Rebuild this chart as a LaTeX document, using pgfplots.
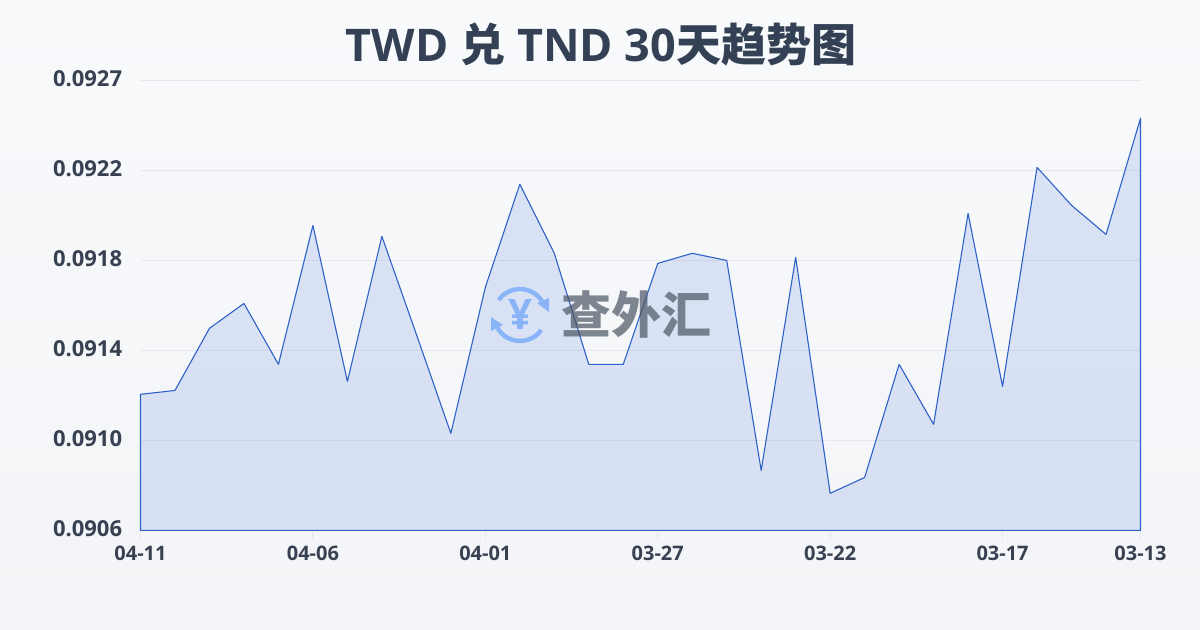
\documentclass[border=0pt]{standalone}
\usepackage{fontspec}
\usepackage{pgfplots}
\pgfplotsset{compat=1.18}
\setmainfont{Open Sans}
\newfontfamily\cjk{Noto Sans CJK SC}

\definecolor{bgtop}{HTML}{F8FAFC}
\definecolor{bgbot}{HTML}{F2F4F7}
\definecolor{titlec}{HTML}{344054}
\definecolor{tickc}{HTML}{374151}
\definecolor{gridc}{HTML}{E5E7EB}
\definecolor{linec}{HTML}{2F62C8}
\definecolor{fillc}{HTML}{3A6BD9}
\definecolor{logoc}{HTML}{8AB4F8}
\definecolor{markc}{HTML}{4B5563}

\pgfplotstableread{
idx rate
0 0.091235
1 0.091253
2 0.091543
3 0.091659
4 0.091375
5 0.092023
6 0.091295
7 0.091972
8 0.091515
9 0.091053
10 0.091734
11 0.092215
12 0.091893
13 0.091375
14 0.091375
15 0.091846
16 0.091893
17 0.091860
18 0.090880
19 0.091874
20 0.090773
21 0.090847
22 0.091375
23 0.091095
24 0.092079
25 0.091272
26 0.092294
27 0.092117
28 0.091981
29 0.092523
}\ratedata

\begin{document}
\begin{tikzpicture}
\useasboundingbox (0,0) rectangle (600pt,-315pt);
\shade[top color=bgtop,bottom color=bgbot] (0,0) rectangle (600pt,-315pt);
\node[font=\bfseries\fontsize{22.5pt}{26pt}\selectfont,text=titlec] at (300.5pt,-22.5pt) {TWD {\cjk 兑} TND 30{\cjk 天趋势图}};

\begin{axis}[
    at={(70.25pt,-265.2pt)},
    anchor=south west,
    scale only axis,
    width=500pt,
    height=225pt,
    xmin=0, xmax=29,
    ymin=0.0906, ymax=0.0927,
    clip=false,
    axis line style={draw=none},
    xtick pos=bottom,
    ytick pos=left,
    scaled y ticks=false,
    xtick={0,5,10,15,20,25,29},
    xticklabels={04-11,04-06,04-01,03-27,03-22,03-17,03-13},
    % grid step is even, the labels are rounded
    ytick={0.0906,0.09102,0.09144,0.09186,0.09228,0.0927},
    yticklabels={0.0906,0.0910,0.0914,0.0918,0.0922,0.0927},
    ymajorgrids=true,
    grid style={gridc,line width=0.5pt},
    tick align=outside,
    major tick length=5pt,
    y tick style={draw=none},
    x tick style={gridc,line width=0.5pt},
    xticklabel style={font=\bfseries\fontsize{10pt}{12pt}\selectfont,text=tickc,inner sep=0pt,yshift=-2.5pt},
    yticklabel style={font=\bfseries\fontsize{11pt}{13pt}\selectfont,text=tickc,inner sep=0pt,xshift=-4pt,yshift=1pt},
  ]
  \addplot[draw=linec,line width=0.55pt,line join=round,fill=fillc,fill opacity=0.15] table[x=idx,y=rate] {\ratedata} \closedcycle;
\end{axis}

\begin{scope}[x=0.5pt,y=-0.5pt]
  % watermark
  \draw[logoc,line width=2.2pt] (520,315) ++(155:26) arc[start angle=155,end angle=35,radius=26];
  \draw[logoc,line width=2.2pt] (520,315) ++(-25:26) arc[start angle=-25,end angle=-145,radius=26];
  \fill[logoc] (549,298) -- (549,312) -- (537,303) -- cycle;
  \fill[logoc] (491,317) -- (491,331) -- (503,325) -- cycle;
  \node[font=\bfseries\fontsize{21pt}{22pt}\selectfont,text=logoc] at (520,315) {¥};
  \node[font=\cjk\bfseries\fontsize{25pt}{26pt}\selectfont,text=markc,opacity=0.7] at (636,315) {查外汇};
\end{scope}
\end{tikzpicture}
\end{document}
